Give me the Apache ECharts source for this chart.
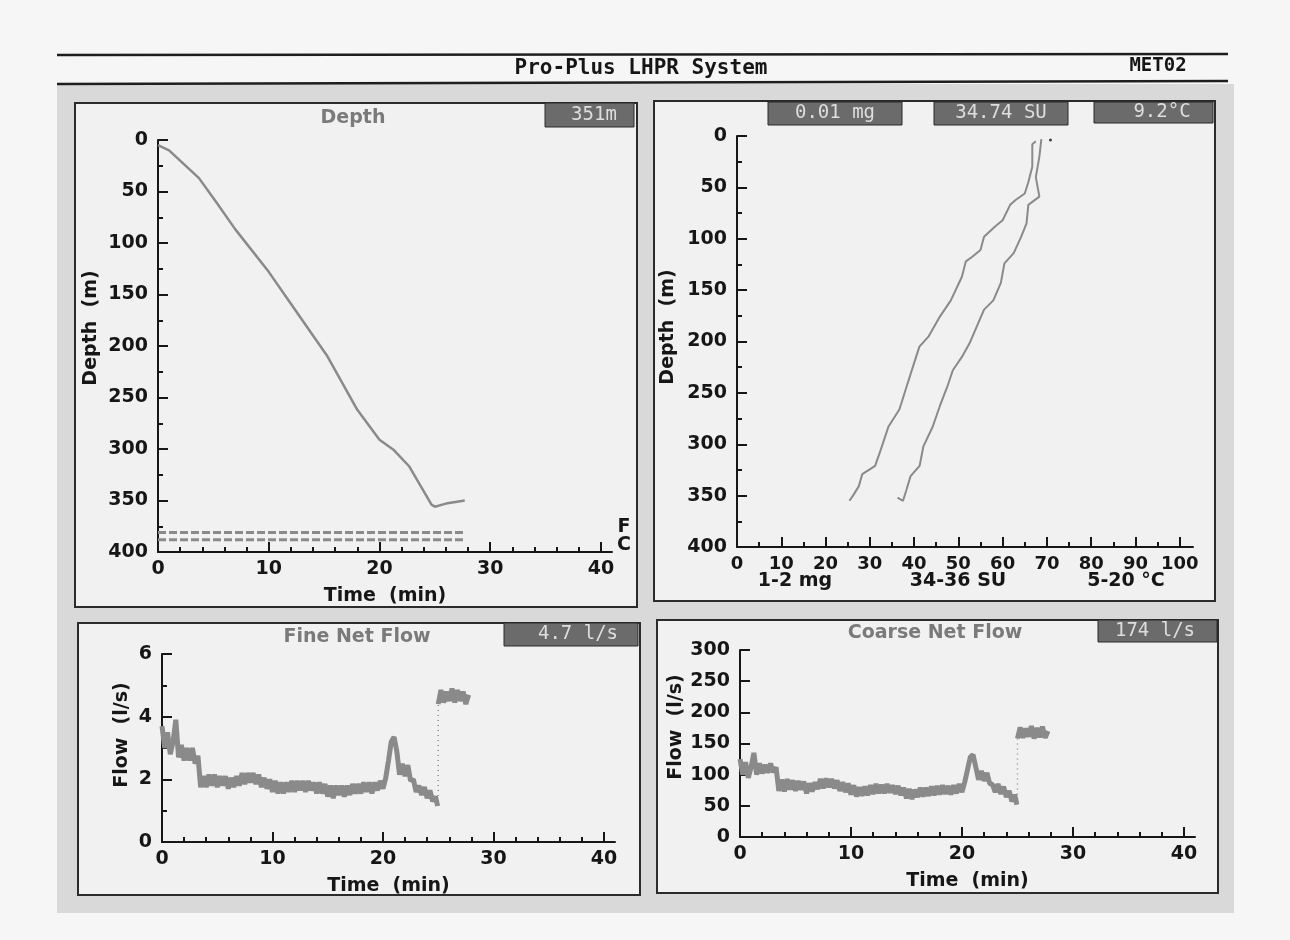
<!DOCTYPE html>
<html>
<head>
<meta charset="utf-8">
<title>Pro-Plus LHPR System</title>
<script src="https://cdn.jsdelivr.net/npm/echarts@6/dist/echarts.min.js"></script>
<style>
  html, body { margin: 0; padding: 0; background: #f6f6f6; }
  #chart { width: 1290px; height: 940px; }
</style>
</head>
<body>
<div id="chart"></div>
<script>
// depth trace: time (min) / depth (m)
const depthTime = [0, 1, 3.7, 5.3, 7, 10, 12, 15.3, 18, 20, 21.3, 22.7, 24.7, 25, 26, 27.7];
const depthValue = [5, 10, 37, 61, 87, 128, 159, 210, 262, 291, 301, 317, 354, 356, 353, 350];
// net markers (F = fine, C = coarse)
const netDepthF = 381;
const netDepthC = 388;
const netTime = [0, 27.7];

// profiles vs depth, scaled 0-100
const tempX = [67.5, 66.7, 66.7, 65.8, 65, 63, 61.7, 60, 58.3, 55.8, 55, 53, 51.7, 50.8, 48.3, 45.8, 43.3, 41.2, 40, 38.3, 36.7, 34.2, 32.5, 31.2, 28.3, 27.5, 26.2, 25.4];
const tempDepth = [5, 8, 30, 45, 56, 62, 67, 82, 88, 98, 111, 118, 122, 137, 160, 176, 195, 205, 221, 244, 266, 283, 305, 321, 329, 341, 350, 355];
const salX = [68.75, 68.3, 67.5, 68.3, 65.8, 65.4, 64.2, 62.5, 60.4, 59.6, 57.9, 55.8, 54.2, 52.5, 50.8, 48.75, 47.5, 45.8, 44.2, 42.1, 41.25, 39.2, 38.3, 37.5, 36.25];
const salDepth = [3, 20, 40, 59, 67, 85, 98, 114, 124, 143, 160, 169, 185, 202, 215, 228, 244, 263, 283, 302, 321, 331, 344, 355, 352];
const surfaceDot = [70.8, 4];

// net flow, before and after the 25 min switch
const flowTimeA = [0, 0.25, 0.5, 0.75, 1, 1.25, 1.5, 1.75, 2, 2.25, 2.5, 2.75, 3, 3.25, 3.5, 3.75, 4, 4.25, 4.5, 4.75,
  5, 5.25, 5.5, 5.75, 6, 6.25, 6.5, 6.75, 7, 7.25, 7.5, 7.75, 8, 8.25, 8.5, 8.75, 9, 9.25, 9.5, 9.75,
  10, 10.25, 10.5, 10.75, 11, 11.25, 11.5, 11.75, 12, 12.25, 12.5, 12.75, 13, 13.25, 13.5, 13.75, 14, 14.25, 14.5, 14.75,
  15, 15.25, 15.5, 15.75, 16, 16.25, 16.5, 16.75, 17, 17.25, 17.5, 17.75, 18, 18.25, 18.5, 18.75, 19, 19.25, 19.5, 19.75,
  20, 20.25, 20.5, 20.75, 21, 21.25, 21.5, 21.75, 22, 22.25, 22.5, 22.75, 23, 23.25, 23.5, 23.75, 24, 24.25, 24.5, 24.75, 24.95];
const flowTimeB = [25, 25.25, 25.5, 25.75, 26, 26.25, 26.5, 26.75, 27, 27.25, 27.5, 27.75];

const fineA = [3.7, 3.0, 3.5, 2.8, 3.2, 3.9, 2.7, 3.1, 2.6, 3.0,
  2.6, 3.0, 2.5, 2.75, 1.75, 2.1, 1.75, 2.15, 1.8, 2.15,
  1.75, 2.1, 1.8, 2.1, 1.7, 2.05, 1.75, 2.1, 1.8, 2.2,
  1.85, 2.2, 1.9, 2.2, 1.85, 2.15, 1.75, 2.05, 1.7, 2.0,
  1.6, 1.95, 1.55, 1.9, 1.55, 1.9, 1.6, 1.95, 1.6, 1.95,
  1.65, 1.95, 1.6, 1.95, 1.65, 1.9, 1.55, 1.9, 1.55, 1.85,
  1.45, 1.8, 1.4, 1.8, 1.5, 1.8, 1.45, 1.8, 1.5, 1.85,
  1.55, 1.85, 1.55, 1.9, 1.6, 1.9, 1.55, 1.9, 1.65, 1.95,
  1.7, 2.05, 2.6, 3.2, 3.35, 2.9, 2.15, 2.5, 2.1, 2.45,
  1.95, 2.0, 1.6, 1.8, 1.5, 1.75, 1.4, 1.65, 1.3, 1.45,
  1.15];
const fineB = [4.4, 4.85, 4.45, 4.8, 4.5, 4.9, 4.45, 4.85, 4.5, 4.8, 4.4, 4.7];

const coarseA = [125, 100, 120, 95, 112, 135, 100, 118, 102, 116,
  103, 118, 104, 112, 74, 92, 73, 93, 76, 91,
  74, 90, 76, 89, 70, 86, 73, 88, 77, 93,
  78, 94, 80, 93, 78, 91, 74, 88, 72, 86,
  68, 83, 65, 80, 66, 81, 67, 83, 69, 85,
  70, 84, 70, 85, 71, 83, 69, 82, 67, 79,
  62, 77, 61, 76, 64, 79, 65, 79, 66, 81,
  67, 82, 68, 83, 69, 82, 68, 83, 70, 85,
  72, 88, 108, 128, 132, 112, 92, 106, 90, 103,
  86, 84, 72, 85, 69, 81, 64, 74, 57, 68,
  52];
const coarseB = [158, 176, 159, 174, 161, 178, 158, 175, 160, 177, 159, 170];

// tick positions
const timeMajor = [0, 10, 20, 30, 40];
const timeMinor = [2, 4, 6, 8, 12, 14, 16, 18, 22, 24, 26, 28, 32, 34, 36, 38];
const profMajor = [0, 10, 20, 30, 40, 50, 60, 70, 80, 90, 100];
const profMinor = [5, 15, 25, 35, 45, 55, 65, 75, 85, 95];

const FONT = 'DejaVu Sans';
const INK = '#161616';
const TRACE = '#8a8a8a';

const pairs = (xs, ys) => xs.map((x, i) => [x, ys[i]]);

const chart = echarts.init(document.getElementById('chart'));

function labelStyle(size, margin) {
  return { color: INK, fontFamily: FONT, fontWeight: 'bold', fontSize: size, margin: margin };
}

function xMajor(grid, max, ticks, size, name) {
  return {
    gridIndex: grid, type: 'value', min: 0, max: max,
    axisLine: { show: true, onZero: false, lineStyle: { color: INK, width: 2 } },
    axisTick: { show: true, inside: true, length: 10, customValues: ticks, lineStyle: { color: INK, width: 2 } },
    axisLabel: Object.assign(labelStyle(size, 8), { customValues: ticks }),
    splitLine: { show: false },
    name: name, nameLocation: 'middle', nameGap: 35,
    nameTextStyle: { color: INK, fontFamily: FONT, fontWeight: 'bold', fontSize: 19 }
  };
}

function xMinor(grid, max, ticks, len) {
  return {
    gridIndex: grid, type: 'value', min: 0, max: max, position: 'bottom',
    axisLine: { show: false, onZero: false },
    axisTick: { show: true, inside: true, length: len, customValues: ticks, lineStyle: { color: INK, width: 2 } },
    axisLabel: { show: false },
    splitLine: { show: false }
  };
}

function yAxis(grid, max, interval, minorSplit, inverse) {
  return {
    gridIndex: grid, type: 'value', min: 0, max: max, interval: interval, inverse: inverse,
    axisLine: { show: true, onZero: false, lineStyle: { color: INK, width: 2 } },
    axisTick: { show: true, inside: true, length: 10, lineStyle: { color: INK, width: 2 } },
    minorTick: { show: minorSplit > 0, splitNumber: minorSplit || 2, length: 5, lineStyle: { color: INK, width: 2 } },
    axisLabel: labelStyle(19, 10),
    splitLine: { show: false }
  };
}

function panel(x, y, w, h) {
  return { type: 'rect', z: -5, shape: { x: x, y: y, width: w, height: h },
    style: { fill: '#f1f1f1', stroke: '#2b2b2b', lineWidth: 2 } };
}
function badge(x, y, w, h, text, cx) {
  return [
    { type: 'rect', z: 50, shape: { x: x, y: y, width: w, height: h },
      style: { fill: '#6b6b6b', stroke: '#2b2b2b', lineWidth: 1 } },
    { type: 'text', z: 51, x: cx, y: y + h / 2,
      style: { text: text, fill: '#dedede', font: '19px "DejaVu Sans Mono"', textAlign: 'center', textVerticalAlign: 'middle' } }
  ];
}
function label(text, x, y, opts) {
  const o = opts || {};
  return { type: 'text', z: 40, x: x, y: y, rotation: o.rotation || 0,
    style: { text: text, fill: o.color || INK,
      font: (o.weight || 'bold') + ' ' + (o.size || 19) + 'px ' + (o.family || '"DejaVu Sans"'),
      textAlign: o.align || 'center', textVerticalAlign: 'middle' } };
}

const elements = [
  { type: 'rect', z: -6, shape: { x: 57, y: 84, width: 1177, height: 829 }, style: { fill: '#d9d9d9' } },
  { type: 'line', z: 40, shape: { x1: 57, y1: 55, x2: 1228, y2: 54 }, style: { stroke: '#1e1e1e', lineWidth: 2.5 } },
  { type: 'line', z: 40, shape: { x1: 57, y1: 84, x2: 1228, y2: 81 }, style: { stroke: '#1e1e1e', lineWidth: 2.5 } },
  label('Pro-Plus LHPR System', 641, 69, { weight: 'bold', size: 21, family: '"DejaVu Sans Mono"' }),
  label('MET02', 1158, 66, { weight: 'bold', size: 19, family: '"DejaVu Sans Mono"' }),
  panel(75, 103, 562, 504),
  panel(654, 101, 561, 500),
  panel(78, 623, 562, 272),
  panel(657, 620, 561, 273),
  label('Depth', 353, 118, { color: '#7a7a7a' }),
  label('Fine Net Flow', 357, 637, { color: '#7a7a7a' }),
  label('Coarse Net Flow', 935, 633, { color: '#7a7a7a' }),
  label('Depth  (m)', 91, 328, { rotation: Math.PI / 2 }),
  label('Depth  (m)', 668, 327, { rotation: Math.PI / 2 }),
  label('Flow  (l/s)', 122, 735, { rotation: Math.PI / 2 }),
  label('Flow  (l/s)', 676, 727, { rotation: Math.PI / 2 }),
  label('F', 624, 527),
  label('C', 624, 545),
  label('1-2 mg', 795, 581),
  label('34-36 SU', 958, 581),
  label('5-20 \u00b0C', 1126, 581)
].concat(
  badge(545, 103, 89, 24, '351m', 594),
  badge(768, 102, 134, 23, '0.01 mg', 835),
  badge(934, 102, 134, 23, '34.74 SU', 1001),
  badge(1094, 102, 119, 21, '9.2\u00b0C', 1162),
  badge(504, 623, 134, 23, '4.7 l/s', 578),
  badge(1098, 620, 119, 22, '174 l/s', 1155)
);

const option = {
  animation: false,
  backgroundColor: '#f6f6f6',
  grid: [
    { left: 158, top: 140, width: 454, height: 412 },
    { left: 737, top: 136, width: 456, height: 411 },
    { left: 162, top: 654, width: 453, height: 188 },
    { left: 740, top: 650, width: 455, height: 187 }
  ],
  xAxis: [
    xMajor(0, 41, timeMajor, 19, 'Time  (min)'),
    xMinor(0, 41, timeMinor, 5),
    xMajor(1, 103, profMajor, 18, ''),
    xMinor(1, 103, profMinor, 5),
    xMajor(2, 41, timeMajor, 19, 'Time  (min)'),
    xMinor(2, 41, timeMinor, 5),
    xMajor(3, 41, timeMajor, 19, 'Time  (min)'),
    xMinor(3, 41, timeMinor, 5)
  ],
  yAxis: [
    yAxis(0, 400, 50, 2, true),
    yAxis(1, 400, 50, 2, true),
    yAxis(2, 6, 2, 2, false),
    yAxis(3, 300, 50, 0, false)
  ],
  graphic: { elements: elements },
  series: [
    { type: 'line', xAxisIndex: 0, yAxisIndex: 0, symbol: 'none',
      lineStyle: { color: TRACE, width: 2.5 }, data: pairs(depthTime, depthValue) },
    { type: 'line', xAxisIndex: 0, yAxisIndex: 0, symbol: 'none',
      lineStyle: { color: TRACE, width: 3, type: [8, 3] }, data: netTime.map(t => [t, netDepthF]) },
    { type: 'line', xAxisIndex: 0, yAxisIndex: 0, symbol: 'none',
      lineStyle: { color: TRACE, width: 3, type: [8, 3] }, data: netTime.map(t => [t, netDepthC]) },

    { type: 'line', xAxisIndex: 2, yAxisIndex: 1, symbol: 'none',
      lineStyle: { color: TRACE, width: 2 }, data: pairs(tempX, tempDepth) },
    { type: 'line', xAxisIndex: 2, yAxisIndex: 1, symbol: 'none',
      lineStyle: { color: TRACE, width: 2 }, data: pairs(salX, salDepth) },
    { type: 'scatter', xAxisIndex: 2, yAxisIndex: 1, symbolSize: 3,
      itemStyle: { color: INK }, data: [surfaceDot] },

    { type: 'line', xAxisIndex: 4, yAxisIndex: 2, symbol: 'none',
      lineStyle: { color: TRACE, width: 5 }, data: pairs(flowTimeA, fineA) },
    { type: 'line', xAxisIndex: 4, yAxisIndex: 2, symbol: 'none',
      lineStyle: { color: TRACE, width: 1.5, type: [1, 4] },
      data: [[flowTimeB[0], fineA[fineA.length - 1]], [flowTimeB[0], fineB[0]]] },
    { type: 'line', xAxisIndex: 4, yAxisIndex: 2, symbol: 'none',
      lineStyle: { color: TRACE, width: 5 }, data: pairs(flowTimeB, fineB) },

    { type: 'line', xAxisIndex: 6, yAxisIndex: 3, symbol: 'none',
      lineStyle: { color: TRACE, width: 5 }, data: pairs(flowTimeA, coarseA) },
    { type: 'line', xAxisIndex: 6, yAxisIndex: 3, symbol: 'none',
      lineStyle: { color: TRACE, width: 1.5, type: [1, 4] },
      data: [[flowTimeB[0], coarseA[coarseA.length - 1]], [flowTimeB[0], coarseB[0]]] },
    { type: 'line', xAxisIndex: 6, yAxisIndex: 3, symbol: 'none',
      lineStyle: { color: TRACE, width: 5 }, data: pairs(flowTimeB, coarseB) }
  ]
};

chart.setOption(option);
</script>
</body>
</html>
